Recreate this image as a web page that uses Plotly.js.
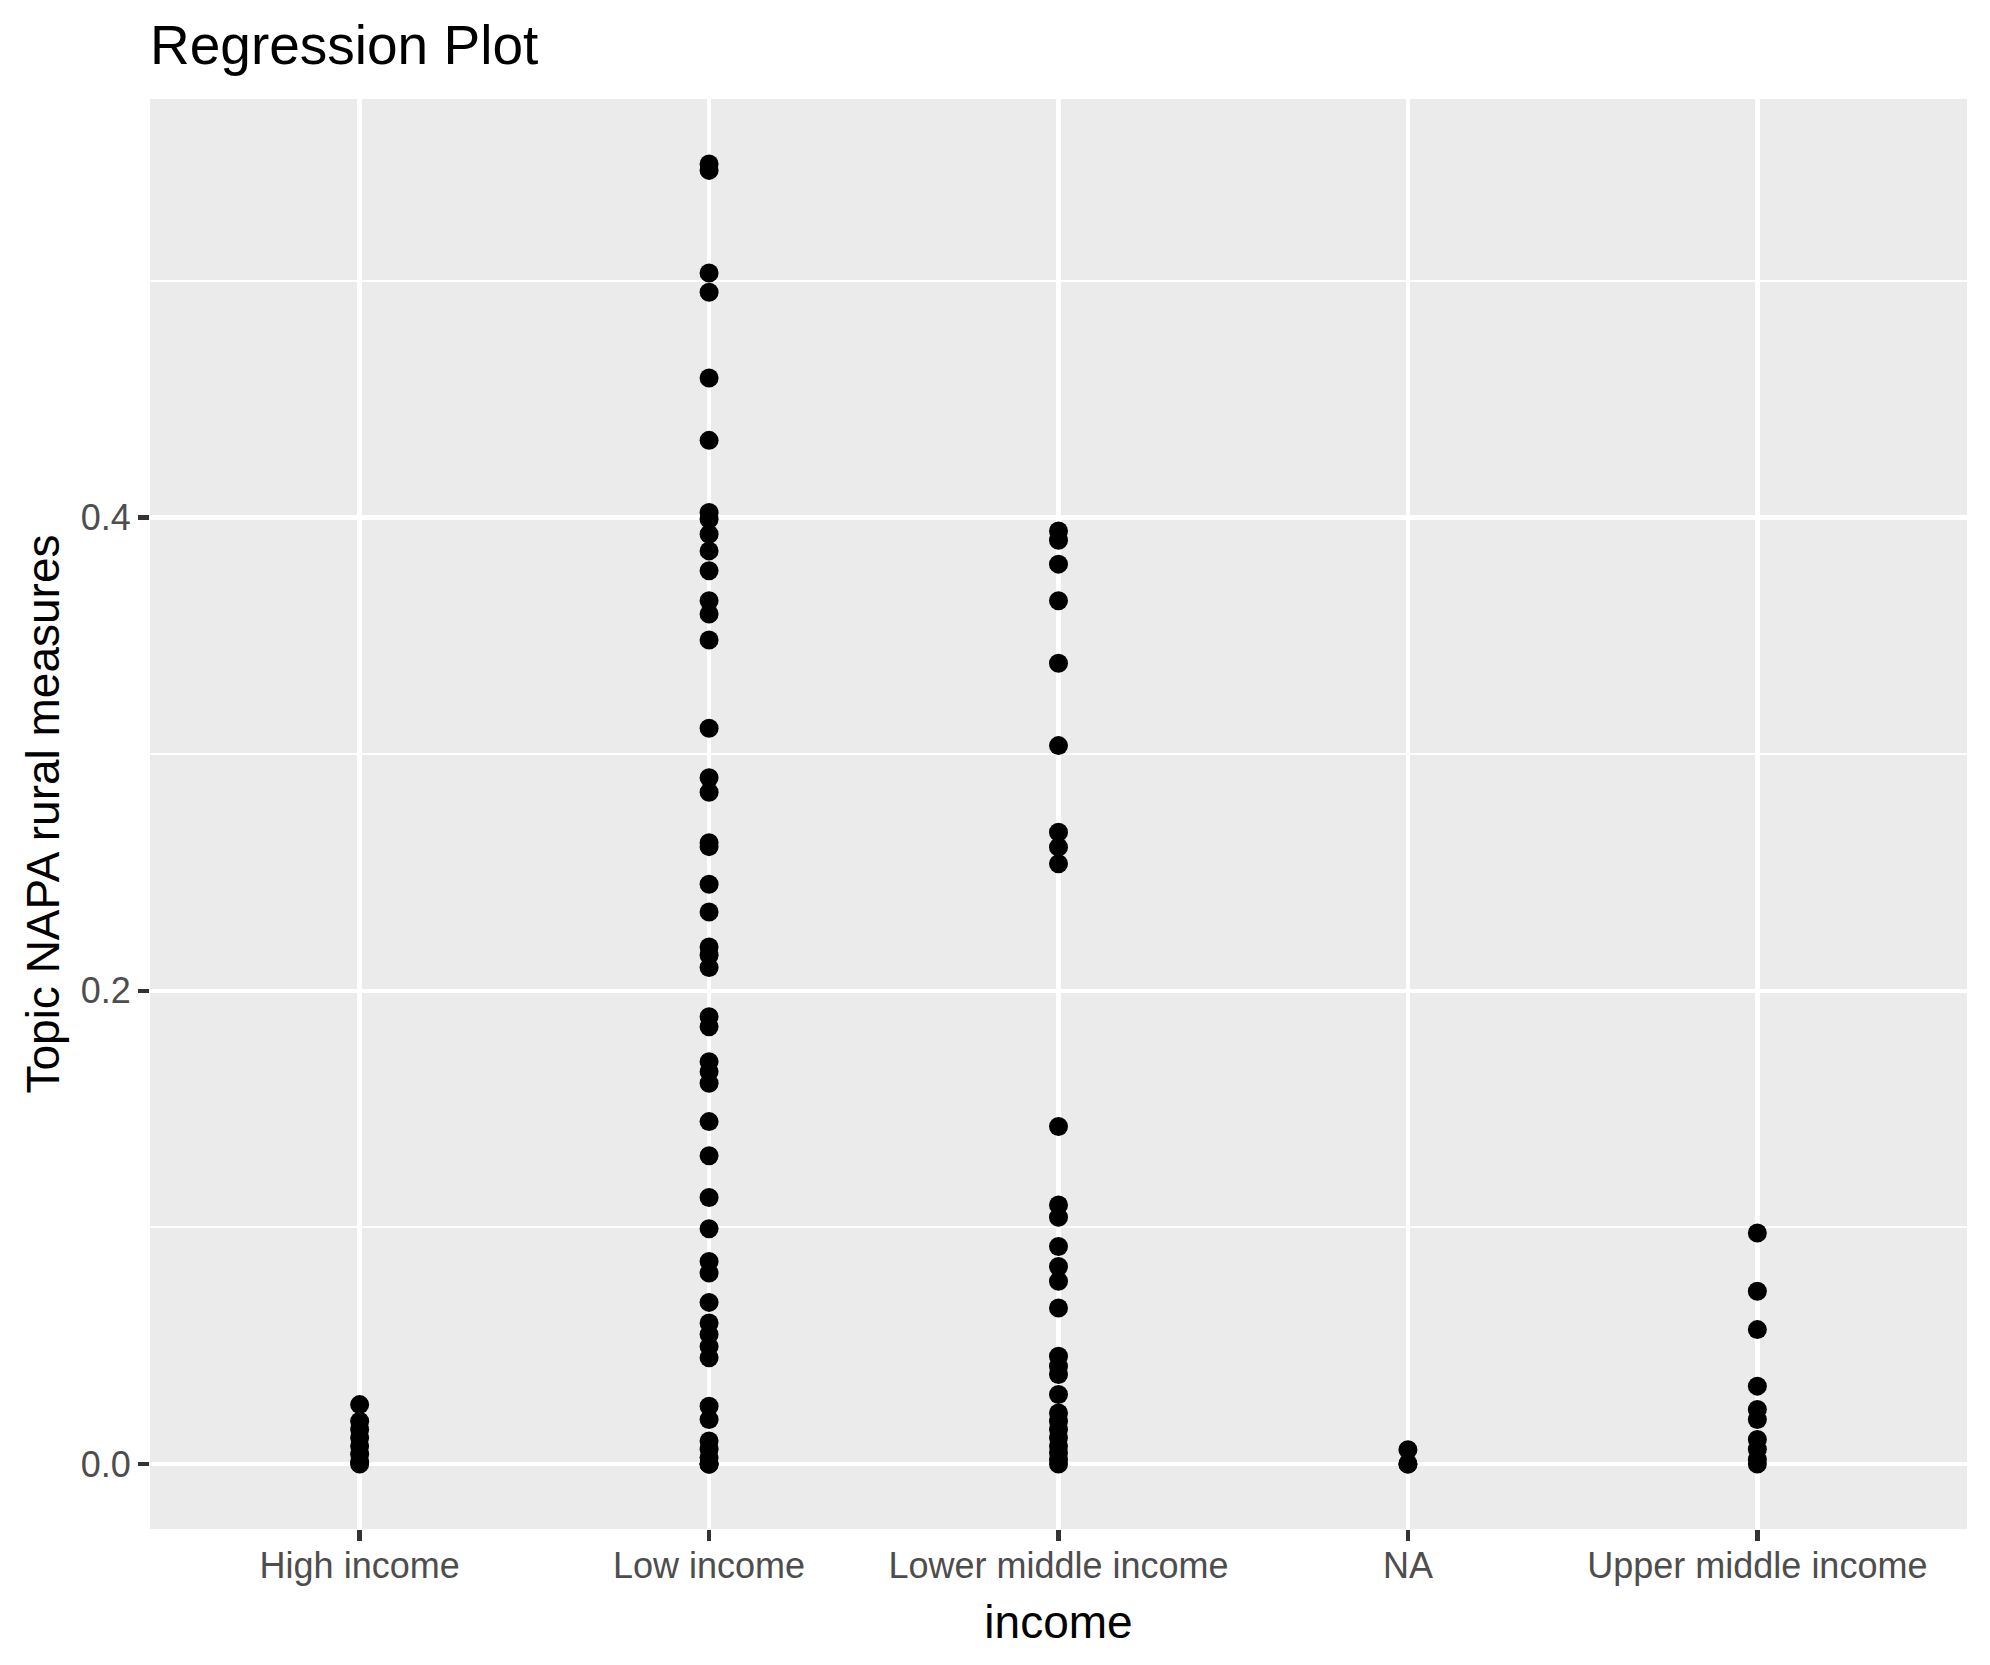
<!DOCTYPE html>
<html>
<head>
<meta charset="utf-8">
<script src="https://cdn.plot.ly/plotly-3.0.1.min.js"></script>
<style>
  html, body { margin: 0; padding: 0; background: #ffffff; }
  #chart { width: 1990px; height: 1665px; }
</style>
</head>
<body>
<div id="chart"></div>
<script>
// Categories on the x axis
const categories = ["High income", "Low income", "Lower middle income", "NA", "Upper middle income"];

const highIncome = [0.0251, 0.0181, 0.0146, 0.0111, 0.0076, 0.0041, 0.0007, 0.0];
const lowIncome = [0.5494, 0.5467, 0.5033, 0.4952, 0.4590, 0.4326, 0.4021, 0.3993, 0.3929, 0.3859,
  0.3775, 0.3648, 0.3592, 0.3482, 0.3109, 0.2900, 0.2839, 0.2626, 0.2609, 0.2450, 0.2333,
  0.2185, 0.2150, 0.2098, 0.1890, 0.1848, 0.1700, 0.1658, 0.1609, 0.1447, 0.1303, 0.1126,
  0.0994, 0.0856, 0.0807, 0.0683, 0.0596, 0.0547, 0.0497, 0.0449, 0.0244, 0.0188, 0.0097,
  0.0062, 0.0027, 0.0, 0.0, 0.0];
const lowerMiddleIncome = [0.3943, 0.3904, 0.3803, 0.3648, 0.3384, 0.3036, 0.2670, 0.2607, 0.2537,
  0.1426, 0.1095, 0.1043, 0.0919, 0.0835, 0.0772, 0.0659, 0.0455, 0.0413, 0.0378, 0.0294,
  0.0216, 0.0181, 0.0146, 0.0111, 0.0076, 0.0048, 0.0019, 0.0];
const naIncome = [0.0060, 0.0, 0.0];
const upperMiddleIncome = [0.0976, 0.0730, 0.0568, 0.0329, 0.0230, 0.0188, 0.0104, 0.0062, 0.0019, 0.0];

const seriesByCategory = [highIncome, lowIncome, lowerMiddleIncome, naIncome, upperMiddleIncome];

// Y axis ticks
const yTickValues = [0.0, 0.2, 0.4];
const yTickLabels = ["0.0", "0.2", "0.4"];
const yMinorValues = [0.1, 0.3, 0.5];

const xs = [];
const ys = [];
seriesByCategory.forEach((vals, i) => {
  vals.forEach(v => { xs.push(categories[i]); ys.push(v); });
});

const yMin = Math.min(...ys), yMax = Math.max(...ys);
const pad = (yMax - yMin) * 0.05;

const trace = {
  type: "scatter",
  mode: "markers",
  x: xs,
  y: ys,
  marker: { color: "#000000", size: 19, line: { width: 0 } },
  hoverinfo: "x+y",
  showlegend: false
};

const font = "Liberation Sans, Arial, Helvetica, sans-serif";

const layout = {
  width: 1990,
  height: 1665,
  paper_bgcolor: "#ffffff",
  plot_bgcolor: "#EBEBEB",
  margin: { l: 150, r: 23, t: 99, b: 136, pad: 0 },
  font: { family: font, color: "#000000" },
  title: {
    text: "Regression Plot",
    font: { family: font, size: 55, color: "#000000" },
    x: 150 / 1990,
    xanchor: "left",
    xref: "container",
    yref: "container",
    y: 1 - 45 / 1665,
    yanchor: "middle"
  },
  xaxis: {
    type: "category",
    categoryorder: "array",
    categoryarray: categories,
    range: [-0.6, categories.length - 1 + 0.6],
    showgrid: true,
    gridcolor: "#ffffff",
    gridwidth: 4.4,
    zeroline: false,
    showline: false,
    ticks: "outside",
    ticklen: 11,
    tickwidth: 4.4,
    tickcolor: "#333333",
    ticklabelstandoff: -6,
    tickfont: { family: font, size: 36, color: "#4D4D4D" },
    title: { text: "income", font: { family: font, size: 46, color: "#000000" }, standoff: 20 },
    fixedrange: true
  },
  yaxis: {
    range: [yMin - pad, yMax + pad],
    tickmode: "array",
    tickvals: yTickValues,
    ticktext: yTickLabels,
    showgrid: true,
    gridcolor: "#ffffff",
    gridwidth: 4.4,
    zeroline: false,
    showline: false,
    ticks: "outside",
    ticklen: 11,
    tickwidth: 4.4,
    tickcolor: "#333333",
    tickfont: { family: font, size: 36, color: "#4D4D4D" },
    minor: {
      tickmode: "array",
      tickvals: yMinorValues,
      showgrid: true,
      gridcolor: "#ffffff",
      gridwidth: 2.2,
      ticks: ""
    },
    title: { text: "Topic NAPA rural measures", font: { family: font, size: 46, color: "#000000" }, standoff: 6 },
    fixedrange: true
  }
};

Plotly.newPlot("chart", [trace], layout, { displayModeBar: false, staticPlot: true });
</script>
</body>
</html>
